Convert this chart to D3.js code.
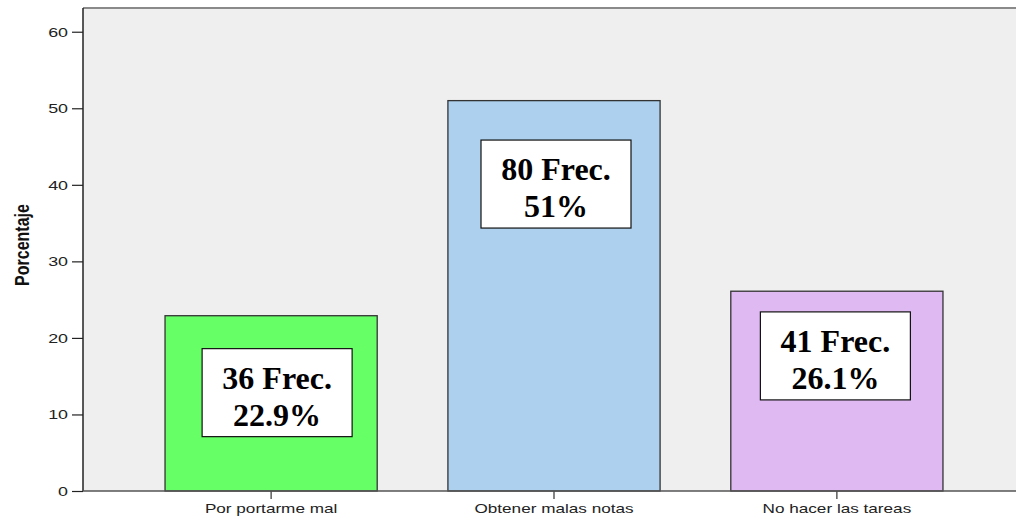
<!DOCTYPE html>
<html>
<head>
<meta charset="utf-8">
<script src="https://cdn.jsdelivr.net/npm/d3@7"></script>
<style>
  html, body { margin: 0; padding: 0; background: #ffffff; }
  svg { display: block; }
</style>
</head>
<body>
<svg id="chart" width="1016" height="518"></svg>
<script>
// ---- data ----
const categories = ["Por portarme mal", "Obtener malas notas", "No hacer las tareas"];
const percentages = [22.9, 51.0, 26.1];
const frequencies = [36, 80, 41];
const percentLabels = ["22.9%", "51%", "26.1%"];
const yTicks = [0, 10, 20, 30, 40, 50, 60];
const barColors = ["#66ff66", "#acd0ee", "#dfb9f1"];
// annotation box anchor (in data units on the y scale) and horizontal nudge (px)
const annotationAt = [12.85, 40.1, 17.65];
const annotationDx = [6, 2, -1.5];

// ---- layout ----
const W = 1016, H = 518;
const plot = { left: 83, top: 8, right: 1016, bottom: 491 };
const stretch = 1.43; // horizontal stretch of sans text in the original

const svg = d3.select("#chart");

const x = d3.scaleBand()
  .domain(categories)
  .range([plot.left, 1025])
  .paddingInner(0.25)
  .paddingOuter(0.29);

const y = d3.scaleLinear()
  .domain([0, 63.1])
  .range([plot.bottom, plot.top]);

// plot background
svg.append("rect")
  .attr("x", plot.left).attr("y", plot.top)
  .attr("width", plot.right - plot.left)
  .attr("height", plot.bottom - plot.top)
  .attr("fill", "#efefef");

// top frame line
svg.append("line")
  .attr("x1", plot.left).attr("x2", plot.right)
  .attr("y1", plot.top).attr("y2", plot.top)
  .attr("stroke", "#8a8a8a").attr("stroke-width", 2);

// bars
svg.selectAll("rect.bar")
  .data(categories)
  .enter().append("rect")
  .attr("class", "bar")
  .attr("x", d => x(d))
  .attr("y", (d, i) => y(percentages[i]))
  .attr("width", x.bandwidth())
  .attr("height", (d, i) => y(0) - y(percentages[i]))
  .attr("fill", (d, i) => barColors[i])
  .attr("stroke", "#333333")
  .attr("stroke-width", 1.3);

// y axis
const yAxis = d3.axisLeft(y).tickValues(yTicks).tickSize(11).tickPadding(4);
const gy = svg.append("g").attr("transform", `translate(${plot.left},0)`).call(yAxis);
gy.select(".domain").remove();
gy.selectAll(".tick line").attr("stroke", "#222").attr("stroke-width", 1.2);
gy.selectAll(".tick text").remove();
gy.selectAll(".tick").each(function(d) {
  d3.select(this).append("text")
    .attr("transform", `translate(-15,0) scale(${stretch},1)`)
    .attr("dy", "0.35em")
    .attr("text-anchor", "end")
    .attr("fill", "#222")
    .style("font-family", "'Liberation Sans', Arial, sans-serif")
    .style("font-size", "12.5px")
    .text(d);
});
svg.append("line")
  .attr("x1", plot.left).attr("x2", plot.left)
  .attr("y1", plot.top).attr("y2", plot.bottom)
  .attr("stroke", "#222").attr("stroke-width", 1.5);

// x axis
const xAxis = d3.axisBottom(x).tickSize(8).tickPadding(3);
const gx = svg.append("g").attr("transform", `translate(0,${plot.bottom})`).call(xAxis);
gx.select(".domain").remove();
gx.selectAll(".tick line").attr("stroke", "#333").attr("stroke-width", 1.2);
gx.selectAll(".tick text").remove();
gx.selectAll(".tick").each(function(d) {
  d3.select(this).append("text")
    .attr("transform", `translate(0,22) scale(${stretch},1)`)
    .attr("text-anchor", "middle")
    .attr("fill", "#222")
    .style("font-family", "'Liberation Sans', Arial, sans-serif")
    .style("font-size", "12px")
    .text(d);
});
svg.append("line")
  .attr("x1", plot.left).attr("x2", plot.right)
  .attr("y1", plot.bottom).attr("y2", plot.bottom)
  .attr("stroke", "#555").attr("stroke-width", 1.5);

// y axis title
svg.append("text")
  .attr("transform", `translate(29,245) rotate(-90) scale(1,1.3)`)
  .attr("text-anchor", "middle")
  .attr("fill", "#111")
  .style("font-family", "'Liberation Sans', Arial, sans-serif")
  .style("font-size", "16px")
  .style("font-weight", "bold")
  .text("Porcentaje");

// annotation boxes
const boxW = 150, boxH = 88;
const ann = svg.selectAll("g.ann")
  .data(categories)
  .enter().append("g")
  .attr("class", "ann")
  .attr("transform", (d, i) =>
    `translate(${x(d) + x.bandwidth() / 2 + annotationDx[i]},${y(annotationAt[i])})`);

ann.append("rect")
  .attr("x", -boxW / 2).attr("y", -boxH / 2)
  .attr("width", boxW).attr("height", boxH)
  .attr("fill", "#ffffff")
  .attr("stroke", "#111").attr("stroke-width", 1.2);

ann.append("text")
  .attr("y", -boxH / 2 + 40)
  .attr("text-anchor", "middle")
  .attr("fill", "#000")
  .style("font-family", "'Liberation Serif', 'Times New Roman', serif")
  .style("font-size", "32px")
  .style("font-weight", "bold")
  .text((d, i) => `${frequencies[i]} Frec.`);

ann.append("text")
  .attr("y", -boxH / 2 + 77)
  .attr("text-anchor", "middle")
  .attr("fill", "#000")
  .style("font-family", "'Liberation Serif', 'Times New Roman', serif")
  .style("font-size", "32px")
  .style("font-weight", "bold")
  .text((d, i) => percentLabels[i]);
</script>
</body>
</html>
